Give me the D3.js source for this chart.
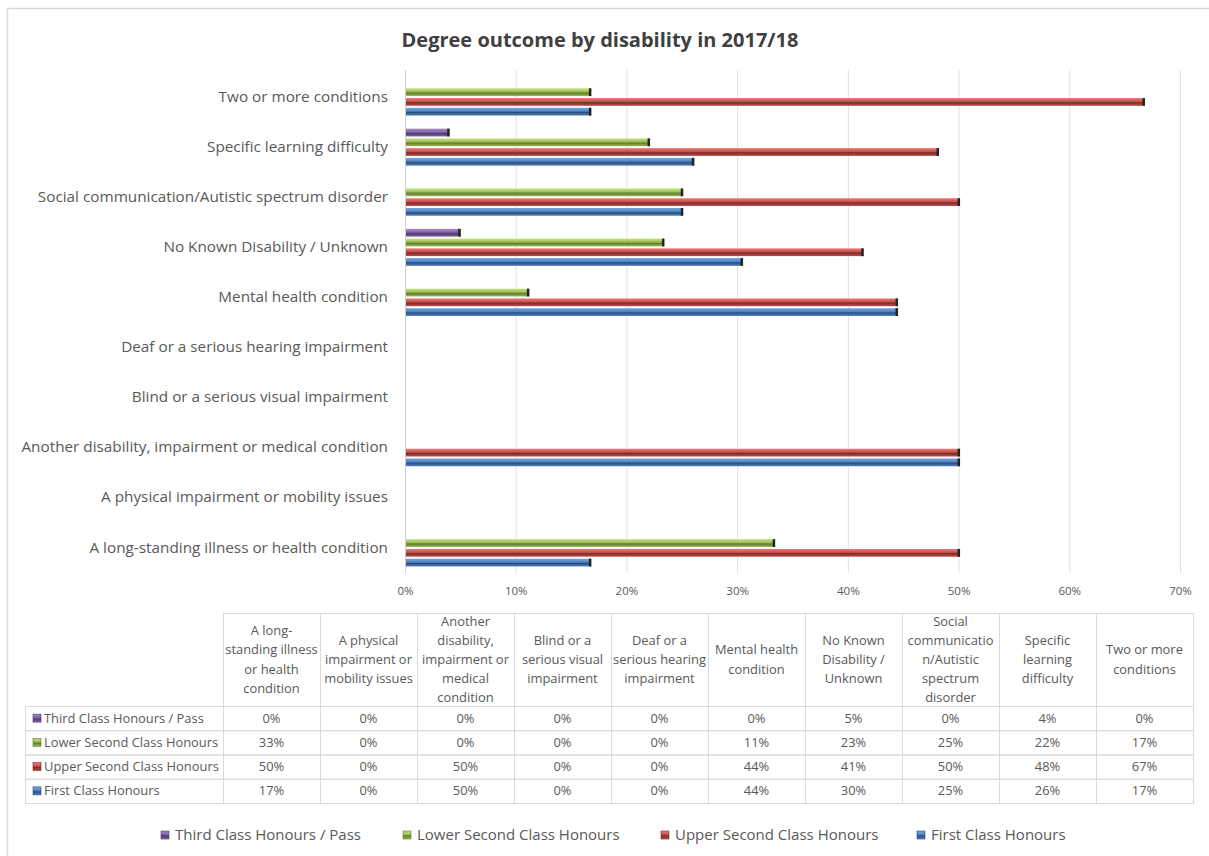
<!DOCTYPE html>
<html><head><meta charset="utf-8">
<script src="https://cdn.jsdelivr.net/npm/d3@7"></script>
<style>
html,body{margin:0;padding:0;background:#fff;}
svg{display:block;font-family:"Open Sans",Lato,sans-serif;}
</style></head>
<body>
<svg id="chart" width="1209" height="856"></svg>
<script>
// ---- data ----
const title = "Degree outcome by disability in 2017/18";
const categories = [
  "A long-standing illness or health condition",
  "A physical impairment or mobility issues",
  "Another disability, impairment or medical condition",
  "Blind or a serious visual impairment",
  "Deaf or a serious hearing impairment",
  "Mental health condition",
  "No Known Disability / Unknown",
  "Social communication/Autistic spectrum disorder",
  "Specific learning difficulty",
  "Two or more conditions"
];
const headerLines = [
  ["A long-","standing illness","or health","condition"],
  ["A physical","impairment or","mobility issues"],
  ["Another","disability,","impairment or","medical","condition"],
  ["Blind or a","serious visual","impairment"],
  ["Deaf or a","serious hearing","impairment"],
  ["Mental health","condition"],
  ["No Known","Disability /","Unknown"],
  ["Social","communicatio","n/Autistic","spectrum","disorder"],
  ["Specific","learning","difficulty"],
  ["Two or more","conditions"]
];
const seriesNames = ["Third Class Honours / Pass","Lower Second Class Honours","Upper Second Class Honours","First Class Honours"];
const thirdClass   = [0, 0, 0, 0, 0, 0, 4.9, 0, 3.9, 0];
const lowerSecond  = [33.3, 0, 0, 0, 0, 11.1, 23.3, 25, 22.0, 16.7];
const upperSecond  = [50, 0, 50, 0, 0, 44.4, 41.3, 50, 48.1, 66.7];
const firstClass   = [16.7, 0, 50, 0, 0, 44.4, 30.4, 25, 26.0, 16.7];
const seriesValues = [thirdClass, lowerSecond, upperSecond, firstClass];
const xTicks = [0, 10, 20, 30, 40, 50, 60, 70];
const seriesColors = [
  {light:"#a58bc8", base:"#8064a2", dark:"#4f3a6e"},
  {light:"#c6e27c", base:"#9bbb59", dark:"#5f7d2c"},
  {light:"#ef7a76", base:"#c0504d", dark:"#7e2a28"},
  {light:"#7aa8e0", base:"#4f81bd", dark:"#2b4f80"}
];

// ---- drawing ----
const svg = d3.select("#chart");
const textCol = "#595959";
const defs = svg.append("defs");
seriesColors.forEach((c,i)=>{
  const g = defs.append("linearGradient").attr("id","grad"+i).attr("x1",0).attr("y1",0).attr("x2",0).attr("y2",1);
  g.append("stop").attr("offset","0%").attr("stop-color",c.light);
  g.append("stop").attr("offset","45%").attr("stop-color",c.base);
  g.append("stop").attr("offset","60%").attr("stop-color",c.dark);
  g.append("stop").attr("offset","100%").attr("stop-color",c.base);
});

// outer border
svg.append("rect").attr("x",7.5).attr("y",8.5).attr("width",1400).attr("height",1000)
  .attr("fill","#fff").attr("stroke","#d9d9d9").attr("stroke-width",1.5);

// title
svg.append("text").attr("x",600).attr("y",47).attr("text-anchor","middle")
  .attr("font-size",20).attr("font-weight","bold").attr("fill","#404040").text(title);

const x = d3.scaleLinear().domain([0,70]).range([405,1180]);
const y = d3.scaleBand().domain(categories.slice().reverse()).range([72,573]);
const yInner = d3.scaleBand().domain(d3.range(4)).range([0,37]).paddingInner(0.2);

// gridlines
svg.append("g").selectAll("line").data(xTicks.slice(1)).join("line")
  .attr("x1",d=>x(d)+0.5).attr("x2",d=>x(d)+0.5).attr("y1",70).attr("y2",573)
  .attr("stroke","#e0e0e0").attr("stroke-width",1);

// x axis labels
const xAxis = d3.axisBottom(x).tickValues(xTicks).tickFormat(d=>d+"%").tickSize(0).tickPadding(0);
const gx = svg.append("g").attr("transform","translate(0,587)").call(xAxis);
gx.select(".domain").remove();
gx.selectAll("text").attr("font-size",11.5).attr("fill",textCol).attr("font-family","'Open Sans',sans-serif");

// y axis line
svg.append("line").attr("x1",405.5).attr("x2",405.5).attr("y1",70).attr("y2",573).attr("stroke","#d0d0d0");

// y labels
const yAxis = d3.axisLeft(y).tickSize(0).tickPadding(17);
const gy = svg.append("g").attr("transform","translate(405,0)").call(yAxis);
gy.select(".domain").remove();
gy.selectAll("text").attr("font-size",15.3).attr("fill",textCol).attr("font-family","'Open Sans',sans-serif").attr("dy","0.3em");

// bars
const bars = [];
categories.forEach((c,ci)=>seriesValues.forEach((vals,si)=>{ if(vals[ci]>0) bars.push({c,si,v:vals[ci]}); }));
const bg = svg.append("g");
bars.forEach(b=>{
  const y0 = y(b.c) + (y.bandwidth()-37)/2 + yInner(b.si);
  const w = x(b.v)-x(0);
  bg.append("rect").attr("x",x(0)+1).attr("y",y0).attr("width",w).attr("height",yInner.bandwidth())
    .attr("fill","url(#grad"+b.si+")");
  bg.append("rect").attr("x",x(b.v)-1).attr("y",y0).attr("width",2.5).attr("height",yInner.bandwidth())
    .attr("fill","#222");
});

// table
const tLeft = 25, tCol0 = 223, tRight = 1193;
const colW = (tRight - tCol0)/categories.length;
const hTop = 613, hBot = 706, rowH = 24.25;
const tg = svg.append("g");
const border = "#dadada";
const tfs = 12.9;
categories.forEach((c,ci)=>{
  const cx = tCol0 + ci*colW;
  tg.append("rect").attr("x",cx+0.5).attr("y",hTop+0.5).attr("width",colW).attr("height",hBot-hTop)
    .attr("fill","none").attr("stroke",border);
  const lines = headerLines[ci];
  const lh = 19.2;
  const midY = (hTop+hBot)/2;
  lines.forEach((ln,li)=>{
    tg.append("text").attr("x",cx+colW/2).attr("y",midY + (li-(lines.length-1)/2)*lh)
      .attr("dy","0.35em").attr("text-anchor","middle").attr("font-size",tfs).attr("fill",textCol).text(ln);
  });
});
const fmt = v => Math.round(v)+"%";
seriesNames.forEach((s,si)=>{
  const ry = hBot + si*rowH;
  tg.append("rect").attr("x",tLeft+0.5).attr("y",ry+0.5).attr("width",tCol0-tLeft).attr("height",rowH)
    .attr("fill","none").attr("stroke",border);
  tg.append("rect").attr("x",33).attr("y",ry+rowH/2-4).attr("width",8).attr("height",8)
    .attr("fill","url(#grad"+si+")").attr("stroke",seriesColors[si].dark).attr("stroke-width",0.6);
  tg.append("text").attr("x",44).attr("y",ry+rowH/2).attr("dy","0.35em").attr("font-size",tfs).attr("fill",textCol).text(s);
  categories.forEach((c,ci)=>{
    const cx = tCol0 + ci*colW;
    tg.append("rect").attr("x",cx+0.5).attr("y",ry+0.5).attr("width",colW).attr("height",rowH)
      .attr("fill","none").attr("stroke",border);
    tg.append("text").attr("x",cx+colW/2).attr("y",ry+rowH/2).attr("dy","0.35em").attr("text-anchor","middle")
      .attr("font-size",tfs).attr("fill",textCol).text(fmt(seriesValues[si][ci]));
  });
});

// legend
const legendX = [161, 403, 661, 917];
const lg = svg.append("g");
seriesNames.forEach((s,si)=>{
  lg.append("rect").attr("x",legendX[si]).attr("y",831).attr("width",8).attr("height",8)
    .attr("fill","url(#grad"+si+")").attr("stroke",seriesColors[si].dark).attr("stroke-width",0.6);
  lg.append("text").attr("x",legendX[si]+14).attr("y",835).attr("dy","0.35em").attr("font-size",15).attr("fill",textCol).text(s);
});
</script>
</body></html>
